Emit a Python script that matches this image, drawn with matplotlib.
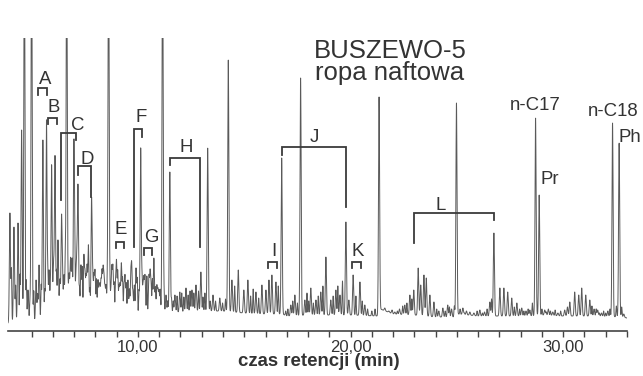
import numpy as np
import matplotlib
matplotlib.use("Agg")
import matplotlib.pyplot as plt

# ---- data (retention time in min, detector signal in arbitrary units) ----
peak_times = [3.98, 4.17, 4.36, 4.53, 4.66, 4.83, 5.00, 5.21, 5.35, 5.53, 5.70, 5.82, 5.94, 6.03,
              6.10, 6.24, 6.33, 6.41, 6.52, 6.65, 6.76, 6.83, 6.90, 6.99, 7.09, 7.18, 7.32, 7.46,
              7.56, 7.67, 7.82, 7.88, 7.98, 8.12, 8.21, 8.31, 8.40, 8.50, 8.62, 8.73, 8.82, 8.99,
              9.11, 9.22, 9.39, 9.53, 9.67, 9.76, 9.91, 10.13, 10.24, 10.33, 10.52, 10.61, 10.75,
              10.89, 10.99, 11.16, 11.32, 11.50,
              11.74, 11.97, 12.26, 12.54, 12.73, 12.96, 13.28, 13.53, 13.85, 14.25, 14.42, 14.72,
              14.98, 15.17, 15.55, 15.83, 16.02, 16.16, 16.30, 16.49, 16.76, 17.19, 17.38, 17.65,
              17.85, 18.13, 18.37, 18.60, 18.84, 19.07, 19.31, 19.50, 19.78, 19.92, 20.12, 20.44,
              20.67, 21.34, 21.61, 21.80, 21.95, 22.08, 22.30, 22.55, 22.79, 22.97, 23.18, 23.30,
              23.45, 23.56, 23.73, 23.92, 24.15, 24.34, 24.57, 24.75, 24.98, 25.28, 25.45, 25.61,
              25.80, 26.08, 26.30, 26.55, 26.74, 27.02, 27.21, 27.39, 27.58, 27.82, 28.05, 28.25,
              28.43, 28.70, 28.87, 29.13, 29.30, 29.51, 29.75, 30.07, 30.20, 30.31, 30.54, 30.73,
              30.87, 31.06, 31.25, 31.45, 31.62, 31.80, 32.10, 32.32, 32.63, 32.85]
peak_heights = [118, 104, 108, 201, 400, 41, 400, 51, 66, 191, 211, 61, 166, 66,
                174, 91, 51, 116, 56, 400, 56, 71, 71, 189, 61, 146, 66, 76,
                56, 86, 131, 51, 61, 51, 46, 61, 56, 46, 400, 41, 66, 71,
                46, 68, 56, 51, 61, 41, 63, 183, 46, 56, 56, 51, 73,
                46, 41, 400, 36, 159,
                36, 39, 43, 41, 46, 59, 183, 36, 33, 271, 51, 61,
                41, 51, 39, 46, 41, 51, 56, 49, 173, 26, 36, 253,
                31, 43, 31, 39, 74, 31, 41, 36, 109, 31, 56, 49,
                26, 234, 23, 20, 21, 19, 22, 26, 36, 41, 63, 46,
                56, 53, 36, 29, 20, 23, 26, 22, 228, 23, 20, 19,
                18, 21, 19, 29, 98, 43, 43, 39, 33, 28, 23, 20,
                21, 213, 136, 21, 22, 19, 18, 21, 24, 29, 39, 36,
                43, 36, 31, 22, 21, 18, 20, 208, 188, 17]
# small baseline wiggles (noise peaks)
noise_times = [4.05, 4.25, 4.45, 4.75, 4.92, 5.10, 5.28, 5.45, 5.62, 5.76, 5.88, 6.17, 6.46,
               6.58, 6.71, 7.03, 7.13, 7.25, 7.38, 7.51, 7.61, 7.74, 7.93, 8.05, 8.17, 8.26,
               8.36, 8.45, 8.56, 8.68, 8.77, 8.88, 8.94, 9.05, 9.16, 9.28, 9.34, 9.45, 9.60,
               9.71, 9.83, 9.97, 10.05, 10.19, 10.28, 10.42, 10.57, 10.68, 10.82, 10.94, 11.05,
               11.23, 11.40, 11.58, 11.66, 11.84, 12.06, 12.16, 12.36, 12.45, 12.63, 12.85,
               13.06, 13.15, 13.40, 13.65, 13.98, 14.12, 14.55, 15.30, 15.42, 15.68, 16.60,
               16.95, 17.05, 17.28, 17.50, 17.95, 18.03, 18.25, 18.48, 18.70, 19.18, 19.40,
               19.62, 20.25, 20.55, 20.80, 21.00, 21.15, 22.20, 22.45, 22.65, 22.88,
               24.05, 24.45, 24.65, 24.88, 25.15, 25.35, 25.95, 26.20,
               26.42, 26.63, 27.70, 27.95, 28.15, 28.35, 28.55,
               29.00, 29.20, 29.40, 29.62, 29.88, 31.35,
               31.55, 31.70, 31.90, 32.00, 32.20, 32.50, 32.75]
noise_heights = [60, 45, 55, 50, 30, 40, 35, 45, 40, 50, 35, 55, 40,
                 60, 30, 45, 50, 40, 60, 45, 55, 40, 45, 50, 30, 40,
                 45, 35, 40, 35, 50, 45, 40, 55, 40, 50, 40, 45, 40,
                 50, 45, 50, 40, 45, 40, 55, 45, 50, 42, 35, 40,
                 35, 30, 32, 30, 35, 38, 34, 36, 40, 38, 40,
                 34, 38, 30, 30, 28, 32, 45, 35, 42, 33, 45,
                 20, 22, 30, 28, 38, 30, 28, 35, 45, 35, 45,
                 50, 35, 30, 22, 20, 22, 20, 25, 28, 32,
                 22, 20, 24, 25, 22, 18, 20, 18,
                 22, 32, 24, 22, 20, 22, 28,
                 22, 19, 20, 21, 20, 25,
                 22, 18, 20, 18, 22, 25, 24]
baseline_times = [3.89, 5.0, 6.5, 8.0, 9.5, 11.0, 12.0, 13.0, 14.0, 15.0, 16.0, 16.8, 17.0,
                  18.0, 19.0, 20.0, 21.3, 21.4, 22.0, 23.0, 24.0, 25.0, 25.05, 26.0, 27.0,
                  28.5, 29.0, 30.0, 31.5, 32.8, 33.0]
baseline_values = [8, 9, 11, 13, 15, 17, 19, 20, 20, 18, 17, 17, 15,
                   16, 16, 16, 15, 22, 17, 16, 14, 14, 17, 15, 15,
                   15, 16, 15, 15, 14, 13]

tick_major = [10, 20, 30]
tick_major_labels = ["10,00", "20,00", "30,00"]

# group brackets: label, t_left, t_right, bar level, left leg end, right leg end, label x, label y
groups = [
    ("A", 5.30, 5.72, 243, 236, 236, 5.63, 251),
    ("B", 5.77, 6.19, 213, 207, 207, 6.05, 223),
    ("C", 6.38, 7.09, 198, 131, 191, 7.18, 206),
    ("D", 7.18, 7.79, 165, 156, 134, 7.60, 172),
    ("E", 8.97, 9.34, 89, 83, 83, 9.20, 102),
    ("F", 9.81, 10.19, 202, 84, 194, 10.14, 214),
    ("G", 10.28, 10.66, 83, 76, 76, 10.61, 93),
    ("H", 11.50, 12.91, 173, 166, 84, 12.26, 183),
    ("I", 16.11, 16.53, 69, 63, 63, 16.39, 79),
    ("J", 16.77, 19.78, 184, 176, 124, 18.32, 194),
    ("K", 20.06, 20.48, 69, 63, 63, 20.34, 79),
    ("L", 22.97, 26.74, 118, 88, 111, 24.24, 125),
]
peak_names = [("n-C17", 28.68, 226), ("Pr", 29.37, 151), ("n-C18", 32.33, 219), ("Ph", 33.13, 193)]

# ---- build trace ----
t = np.linspace(3.89, 33.0, 12000)
base = np.interp(t, baseline_times, baseline_values)


def peaks_sum(times, heights, sigma):
    pt = np.array(times)
    amp = np.array(heights, dtype=float) - np.interp(pt, baseline_times, baseline_values)
    return (amp[:, None] * np.exp(-0.5 * ((t[None, :] - pt[:, None]) / sigma) ** 2)).sum(axis=0)


sig = base + peaks_sum(peak_times, peak_heights, 0.026) + peaks_sum(noise_times, noise_heights, 0.018)

# ---- figure ----
plt.rcParams['font.family'] = ['Liberation Sans', 'DejaVu Sans']
fig = plt.figure(figsize=(6.43, 3.76), dpi=100)
ax = fig.add_axes([8 / 643, 1 - 331 / 376, 619 / 643, 293 / 376])
ax.plot(t, sig, color="#5a5a5a", lw=0.7)
ax.set_xlim(3.89, 33.0)
ax.set_ylim(0, 293)

for s in ("top", "right", "left"):
    ax.spines[s].set_visible(False)
ax.spines["bottom"].set_color("#444444")
ax.spines["bottom"].set_linewidth(1.2)
ax.set_yticks([])
ax.set_xticks(tick_major)
ax.set_xticklabels(tick_major_labels, fontsize=12, color="#333333")
ax.set_xticks(np.arange(5, 34, 1), minor=True)
ax.tick_params(axis="x", which="both", direction="out", length=4.3, width=1.0,
               color="#444444", pad=2)

bc = "#3a3a3a"
for lab, tl, tr, yb, yl, yr, lx, ly in groups:
    ax.plot([tl, tl, tr, tr], [yl, yb, yb, yr], color=bc, lw=1.3, solid_joinstyle="miter",
            clip_on=False)
    ax.text(lx, ly, lab, fontsize=13.4, color="#333333", ha="center", va="center")

for lab, lx, ly in peak_names:
    ax.text(lx, ly, lab, fontsize=13.4, color="#333333", ha="center", va="center", clip_on=False)

fig.text(390 / 643, 1 - 51 / 376, "BUSZEWO-5", fontsize=18.5, color="#333333",
         ha="center", va="center")
fig.text(390 / 643, 1 - 73 / 376, "ropa naftowa", fontsize=18.5, color="#333333",
         ha="center", va="center")
fig.text(319 / 643, 1 - 362 / 376, "czas retencji (min)", fontsize=13.4, fontweight="bold",
         color="#333333", ha="center", va="center")

fig.savefig("out.png", dpi=100, facecolor="white")
